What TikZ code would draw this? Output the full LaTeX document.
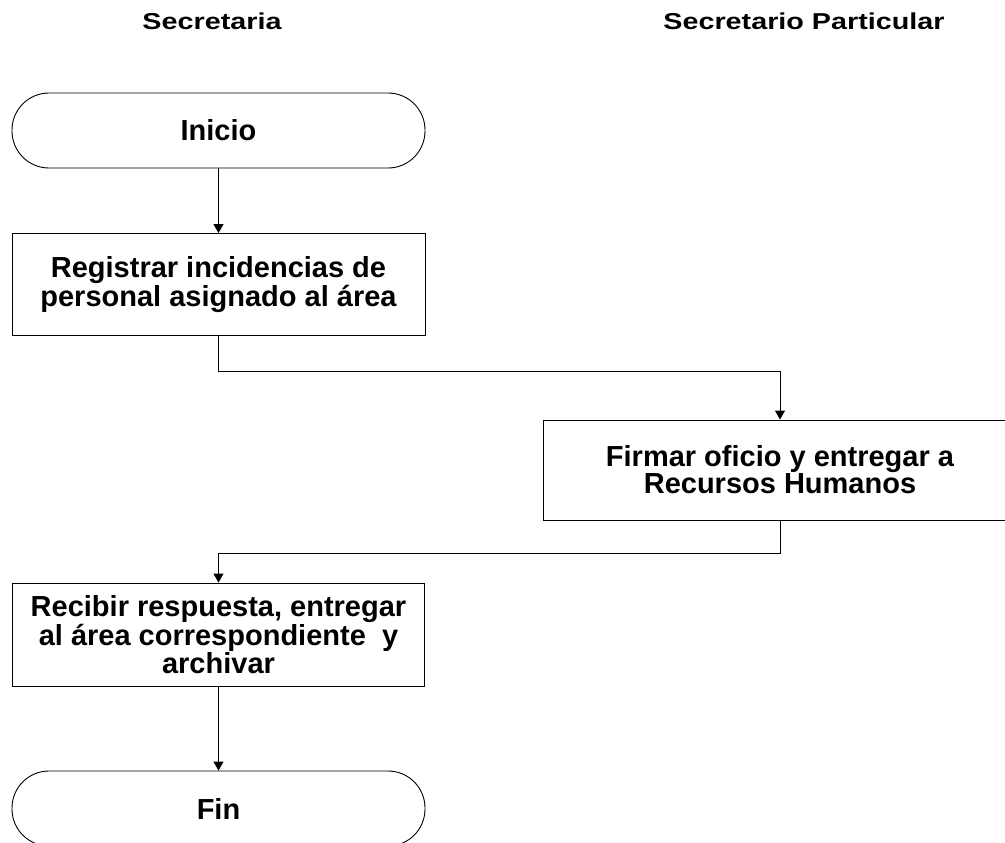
\documentclass[tikz,border=0pt]{standalone}
\usepackage{fontspec}
\setmainfont{Liberation Sans}
\newfontfamily\titlefont[FakeStretch=1.25]{Liberation Sans}
\usepackage{tikz}
\usetikzlibrary{arrows.meta}

\tikzset{
 proc/.style={draw,line width=0.9pt,minimum width=413pt,minimum height=102pt,
   align=center,inner sep=0pt,font=\fontsize{29}{27}\selectfont\bfseries},
 term/.style={proc,minimum height=75pt,rounded corners=37pt},
 lane/.style={font=\titlefont\fontsize{23}{26}\selectfont\bfseries},
 flecha/.style={line width=0.9pt,-{Triangle[width=10pt,length=9pt]}}
}

\begin{document}
\begin{tikzpicture}[x=1pt,y=-1pt]
 \useasboundingbox (0,0) rectangle (1005,843);
 \clip (0,0) rectangle (1005,843);
 \node[lane] (secre) at (212,21) {Secretaria};
 \node[lane] (partic) at (804,21) {Secretario Particular};
% izquierda
 \node[term] (inicio) at (218.5,130.5) {Inicio};
 \node[proc] (registrar) at (218.5,284.5) {Registrar incidencias de\\personal asignado al área};
% derecha
 \node[proc,minimum width=474pt,minimum height=100pt] (firmar) at (780,470)
   {Firmar oficio y entregar a\\Recursos Humanos};
 \node[proc,minimum width=412pt,minimum height=103pt] (recibir) at (218.5,634.5)
   {Recibir respuesta, entregar\\al área correspondiente\ \ y\\archivar};
 \node[term] (fin) at (218.5,808.5) {Fin};
 \draw[flecha] (inicio) -- (registrar);
 \draw[flecha] (registrar.south) -- ++(0,35) -| (firmar.north);
 \draw[flecha] (firmar.south) -- ++(0,33) -| (recibir.north);
 \draw[flecha] (recibir) -- (fin);
\end{tikzpicture}
\end{document}
